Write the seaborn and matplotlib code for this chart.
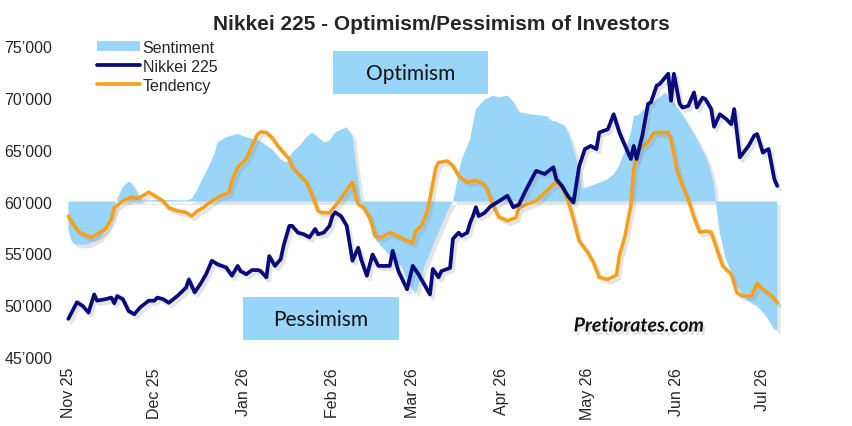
import seaborn as sns
import pandas as pd
import matplotlib.pyplot as plt
import matplotlib.dates as mdates
import matplotlib.patheffects as pe
from matplotlib.lines import Line2D
from matplotlib.patches import Rectangle
from matplotlib.ticker import FuncFormatter

sns.set_style('white')
plt.rcParams['font.family'] = ['Liberation Sans', 'DejaVu Sans']

BLUE = '#99D5F8'
NAVY = '#0A0A7A'
ORANGE = '#F5A01C'
BASE = 60000

nikkei_dates = [
    "2025-11-01", "2025-11-04", "2025-11-06", "2025-11-08", "2025-11-10", "2025-11-11",
    "2025-11-14", "2025-11-16", "2025-11-17", "2025-11-18", "2025-11-20", "2025-11-22",
    "2025-11-24", "2025-11-26", "2025-11-29", "2025-12-01", "2025-12-02", "2025-12-04",
    "2025-12-06", "2025-12-09", "2025-12-12", "2025-12-13", "2025-12-15", "2025-12-17",
    "2025-12-19", "2025-12-21", "2025-12-23", "2025-12-26", "2025-12-28", "2025-12-30",
    "2025-12-31", "2026-01-02", "2026-01-04", "2026-01-06", "2026-01-07", "2026-01-09",
    "2026-01-10", "2026-01-12", "2026-01-14", "2026-01-15", "2026-01-17", "2026-01-18",
    "2026-01-20", "2026-01-22", "2026-01-24", "2026-01-26", "2026-01-27", "2026-01-29",
    "2026-01-31", "2026-02-01", "2026-02-02", "2026-02-04", "2026-02-06", "2026-02-08",
    "2026-02-10", "2026-02-11", "2026-02-13", "2026-02-15", "2026-02-17", "2026-02-18",
    "2026-02-21", "2026-02-22", "2026-02-24", "2026-02-27", "2026-03-01", "2026-03-03",
    "2026-03-07", "2026-03-08", "2026-03-10", "2026-03-11", "2026-03-14", "2026-03-15",
    "2026-03-17", "2026-03-18", "2026-03-20", "2026-03-21", "2026-03-22", "2026-03-23",
    "2026-03-24", "2026-03-26", "2026-03-28", "2026-04-01", "2026-04-03", "2026-04-05",
    "2026-04-07", "2026-04-09", "2026-04-12", "2026-04-13", "2026-04-16", "2026-04-19",
    "2026-04-20", "2026-04-22", "2026-04-24", "2026-04-26", "2026-04-28", "2026-04-30",
    "2026-05-02", "2026-05-04", "2026-05-05", "2026-05-08", "2026-05-10", "2026-05-12",
    "2026-05-14", "2026-05-16", "2026-05-17", "2026-05-18", "2026-05-20", "2026-05-22",
    "2026-05-23", "2026-05-25", "2026-05-26", "2026-05-28", "2026-05-29", "2026-05-30",
    "2026-05-31", "2026-06-02", "2026-06-03", "2026-06-05", "2026-06-07", "2026-06-08",
    "2026-06-10", "2026-06-11", "2026-06-13", "2026-06-14", "2026-06-16", "2026-06-18",
    "2026-06-20", "2026-06-21", "2026-06-23", "2026-06-26", "2026-06-28", "2026-06-29",
    "2026-07-01", "2026-07-02", "2026-07-03", "2026-07-05", "2026-07-06",
]
nikkei_values = [
    48700, 50300, 49950, 49300, 51050, 50450,
    50600, 50750, 50200, 50900, 50600, 49450,
    49150, 49800, 50450, 50450, 50750, 50600,
    50250, 50900, 51700, 52500, 51250, 52050,
    53000, 54300, 53950, 53650, 52850, 53800,
    53300, 53000, 53400, 53400, 53300, 52700,
    54750, 53800, 54450, 55750, 57650, 57650,
    57000, 56850, 56550, 57350, 56850, 57000,
    57650, 58600, 58950, 58600, 57650, 54300,
    55550, 54450, 52850, 54900, 53800, 53800,
    53800, 55250, 53300, 51550, 53800, 53000,
    51050, 53500, 52700, 53300, 53600, 56400,
    57000, 56700, 57000, 57950, 58600, 59450,
    58600, 58900, 59500, 60200, 60550, 59450,
    59700, 60850, 62450, 62950, 62650, 63300,
    62150, 61500, 60550, 59900, 63400, 65050,
    65350, 65050, 66650, 66950, 68400, 66650,
    65350, 64100, 65350, 64100, 66350, 69400,
    69550, 71150, 71300, 71950, 72300, 69700,
    72300, 69400, 69050, 69200, 70500, 69050,
    70000, 69850, 68900, 67200, 68400, 68000,
    67450, 68900, 64250, 65350, 66350, 66500,
    64700, 64900, 65050, 62150, 61500,
]

tendency_dates = [
    "2025-11-01", "2025-11-03", "2025-11-05", "2025-11-09", "2025-11-12", "2025-11-14",
    "2025-11-16", "2025-11-17", "2025-11-20", "2025-11-23", "2025-11-25", "2025-11-27",
    "2025-11-29", "2025-12-02", "2025-12-04", "2025-12-06", "2025-12-09", "2025-12-12",
    "2025-12-14", "2025-12-16", "2025-12-18", "2025-12-20", "2025-12-22", "2025-12-24",
    "2025-12-27", "2025-12-28", "2025-12-30", "2026-01-02", "2026-01-04", "2026-01-06",
    "2026-01-07", "2026-01-09", "2026-01-11", "2026-01-13", "2026-01-15", "2026-01-17",
    "2026-01-18", "2026-01-21", "2026-01-23", "2026-01-25", "2026-01-27", "2026-01-28",
    "2026-01-31", "2026-02-01", "2026-02-03", "2026-02-05", "2026-02-07", "2026-02-08",
    "2026-02-09", "2026-02-10", "2026-02-12", "2026-02-14", "2026-02-16", "2026-02-18",
    "2026-02-21", "2026-02-24", "2026-02-26", "2026-03-01", "2026-03-02", "2026-03-04",
    "2026-03-06", "2026-03-07", "2026-03-09", "2026-03-10", "2026-03-13", "2026-03-15",
    "2026-03-17", "2026-03-20", "2026-03-23", "2026-03-26", "2026-03-27", "2026-03-29",
    "2026-03-31", "2026-04-03", "2026-04-06", "2026-04-07", "2026-04-10", "2026-04-13",
    "2026-04-16", "2026-04-19", "2026-04-20", "2026-04-22", "2026-04-24", "2026-04-26",
    "2026-04-28", "2026-05-01", "2026-05-03", "2026-05-05", "2026-05-08", "2026-05-11",
    "2026-05-12", "2026-05-14", "2026-05-16", "2026-05-17", "2026-05-19", "2026-05-22",
    "2026-05-24", "2026-05-26", "2026-05-29", "2026-05-30", "2026-06-01", "2026-06-03",
    "2026-06-05", "2026-06-07", "2026-06-09", "2026-06-11", "2026-06-13", "2026-06-15",
    "2026-06-17", "2026-06-20", "2026-06-22", "2026-06-24", "2026-06-27", "2026-06-29",
    "2026-07-01", "2026-07-04", "2026-07-06",
]
tendency_values = [
    58600, 57650, 57000, 56550, 57000, 57350,
    58300, 59400, 60050, 60400, 60300, 60550,
    60900, 60400, 60050, 59400, 59100, 58950,
    58600, 59100, 59400, 59850, 60200, 60550,
    60850, 62000, 63300, 64100, 65350, 66500,
    66700, 66650, 66150, 65350, 64700, 64100,
    63300, 62450, 61850, 60550, 59100, 58950,
    58900, 59250, 59900, 60700, 61500, 61850,
    60550, 59750, 59400, 58450, 56650, 56550,
    57000, 56650, 56350, 56000, 57150, 57650,
    58950, 60300, 63200, 63750, 63900, 63450,
    62450, 61850, 62050, 61650, 61050, 59600,
    58500, 58150, 58450, 59400, 59750, 60050,
    60850, 61650, 61900, 61350, 60200, 58300,
    56200, 55100, 54100, 52700, 52500, 52900,
    54800, 56700, 59600, 63100, 65100, 65700,
    66600, 66650, 66650, 66000, 63100, 61500,
    60200, 58500, 57050, 57150, 57050, 55400,
    53800, 53000, 51200, 50900, 50900, 52100,
    51550, 50950, 50250,
]

sentiment_dates = [
    "2025-11-01", "2025-11-02", "2025-11-03", "2025-11-06", "2025-11-08", "2025-11-12",
    "2025-11-15", "2025-11-17", "2025-11-18", "2025-11-20", "2025-11-22", "2025-11-23",
    "2025-11-24", "2025-11-26", "2025-11-27", "2025-11-28", "2025-12-05", "2025-12-12",
    "2025-12-14", "2025-12-16", "2025-12-18", "2025-12-20", "2025-12-22", "2025-12-23",
    "2025-12-26", "2025-12-30", "2026-01-02", "2026-01-07", "2026-01-11", "2026-01-14",
    "2026-01-16", "2026-01-18", "2026-01-21", "2026-01-23", "2026-01-25", "2026-01-27",
    "2026-01-29", "2026-01-31", "2026-02-02", "2026-02-06", "2026-02-08", "2026-02-09",
    "2026-02-10", "2026-02-11", "2026-02-12", "2026-02-14", "2026-02-15", "2026-02-18",
    "2026-02-21", "2026-02-25", "2026-02-27", "2026-03-02", "2026-03-05", "2026-03-09",
    "2026-03-13", "2026-03-15", "2026-03-16", "2026-03-17", "2026-03-18", "2026-03-21",
    "2026-03-23", "2026-03-26", "2026-03-29", "2026-03-31", "2026-04-03", "2026-04-05",
    "2026-04-07", "2026-04-11", "2026-04-17", "2026-04-18", "2026-04-20", "2026-04-23",
    "2026-04-25", "2026-04-27", "2026-04-29", "2026-05-01", "2026-05-03", "2026-05-05",
    "2026-05-08", "2026-05-10", "2026-05-12", "2026-05-14", "2026-05-16", "2026-05-17",
    "2026-05-19", "2026-05-21", "2026-05-25", "2026-05-28", "2026-05-31", "2026-06-04",
    "2026-06-08", "2026-06-11", "2026-06-13", "2026-06-14", "2026-06-15", "2026-06-16",
    "2026-06-18", "2026-06-22", "2026-06-25", "2026-06-29", "2026-07-02", "2026-07-05",
    "2026-07-06",
]
sentiment_values = [
    57300, 56300, 55900, 55800, 55900, 56400,
    57800, 59300, 60200, 61400, 61900, 61800,
    61300, 60400, 60050, 60100, 60150, 60100,
    60250, 61200, 62300, 63400, 64700, 65700,
    66200, 66500, 66200, 65800, 65000, 64050,
    63750, 64700, 65500, 66200, 66650, 66200,
    65700, 65850, 66650, 67150, 66300, 64050,
    62150, 60100, 59000, 58000, 56700, 55700,
    54800, 53800, 52300, 51100, 53700, 56400,
    59000, 60000, 61200, 62800, 64000, 66000,
    68900, 69800, 70200, 70000, 70200, 69600,
    68600, 68400, 68200, 67800, 67700, 67300,
    66000, 64100, 61200, 61400, 61600, 61800,
    62150, 62600, 63500, 64900, 66600, 68200,
    68400, 69000, 69800, 70500, 69500, 67900,
    66000, 64400, 62800, 61500, 59000, 57000,
    54500, 51900, 50600, 49950, 49000, 47700,
    47600,
]

nikkei = pd.DataFrame({'date': pd.to_datetime(nikkei_dates), 'value': nikkei_values})
tendency = pd.DataFrame({'date': pd.to_datetime(tendency_dates), 'value': tendency_values})
sentiment = pd.DataFrame({'date': pd.to_datetime(sentiment_dates), 'value': sentiment_values})

fig = plt.figure(figsize=(8.52, 4.27), dpi=100)
ax = fig.add_axes([0.0735, 0.1609, 0.8623, 0.7297])

# soft drop shadows like the original chart
line_fx = [pe.SimpleLineShadow(offset=(2, -2.5), shadow_color='#888888', alpha=0.22), pe.Normal()]

area = ax.fill_between(sentiment['date'], BASE, sentiment['value'], color=BLUE, lw=0, zorder=1)
area.set_path_effects([pe.withSimplePatchShadow(offset=(2.5, -2.5), shadow_rgbFace='#888888', alpha=0.22)])

sns.lineplot(data=tendency, x='date', y='value', ax=ax, color=ORANGE, linewidth=2.6, zorder=3)
ax.lines[-1].set_path_effects(line_fx)
sns.lineplot(data=nikkei, x='date', y='value', ax=ax, color=NAVY, linewidth=2.7, zorder=4)
ax.lines[-1].set_path_effects(line_fx)

ax.set_xlim(pd.Timestamp('2025-10-30'), pd.Timestamp('2026-07-13'))
ax.set_ylim(45000, 75000)
ax.set_yticks(range(45000, 75001, 5000))
ax.yaxis.set_major_formatter(FuncFormatter(lambda v, p: f"{int(v // 1000)}\u2019000"))
ax.xaxis.set_major_locator(mdates.MonthLocator())
ax.xaxis.set_major_formatter(mdates.DateFormatter('%b %y'))
ax.tick_params(axis='y', length=0, pad=7.5, labelsize=11.5)
ax.tick_params(axis='x', length=0, pad=7, labelsize=11.5, labelrotation=90)
ax.set_xlabel('')
ax.set_ylabel('')
sns.despine(ax=ax, left=True, bottom=True)

handles = [
    Line2D([0], [0], color=BLUE, lw=7, solid_capstyle='butt'),
    Line2D([0], [0], color=NAVY, lw=2.7),
    Line2D([0], [0], color=ORANGE, lw=2.6),
]
ax.legend(handles, ['Sentiment', 'Nikkei 225', 'Tendency'], loc='upper left',
          bbox_to_anchor=(97 / 852, 1 - 41 / 427), bbox_transform=fig.transFigure,
          frameon=False, fontsize=11.5, handlelength=2.7, handletextpad=0.15,
          labelspacing=0.25, borderpad=0, borderaxespad=0)

fig.text(441 / 852, 1 - 25 / 427, 'Nikkei 225 - Optimism/Pessimism of Investors',
         ha='center', va='center', fontsize=15, fontweight='bold')


def label_box(x0, x1, y0, y1, text):
    fig.patches.append(Rectangle((x0 / 852, 1 - y1 / 427), (x1 - x0) / 852, (y1 - y0) / 427,
                                 transform=fig.transFigure, color=BLUE, lw=0, zorder=5))
    fig.text((x0 + x1) / 2 / 852, 1 - (y0 + y1) / 2 / 427, text, ha='center', va='center',
             fontsize=15, family=['Lato', 'DejaVu Sans'], color='#111111', zorder=6)


label_box(333, 488, 52, 95, 'Optimism')
label_box(243, 399, 298, 341, 'Pessimism')

fig.text(639 / 852, 1 - 327 / 427, 'Pretiorates.com', ha='center', va='center',
         fontsize=14, fontweight='bold', fontstyle='italic', family=['Lato', 'DejaVu Sans'],
         color='#111111',
         path_effects=[pe.withSimplePatchShadow(offset=(1.5, -2.5), shadow_rgbFace='#999999', alpha=0.3)])

plt.savefig('out.png', dpi=100)
